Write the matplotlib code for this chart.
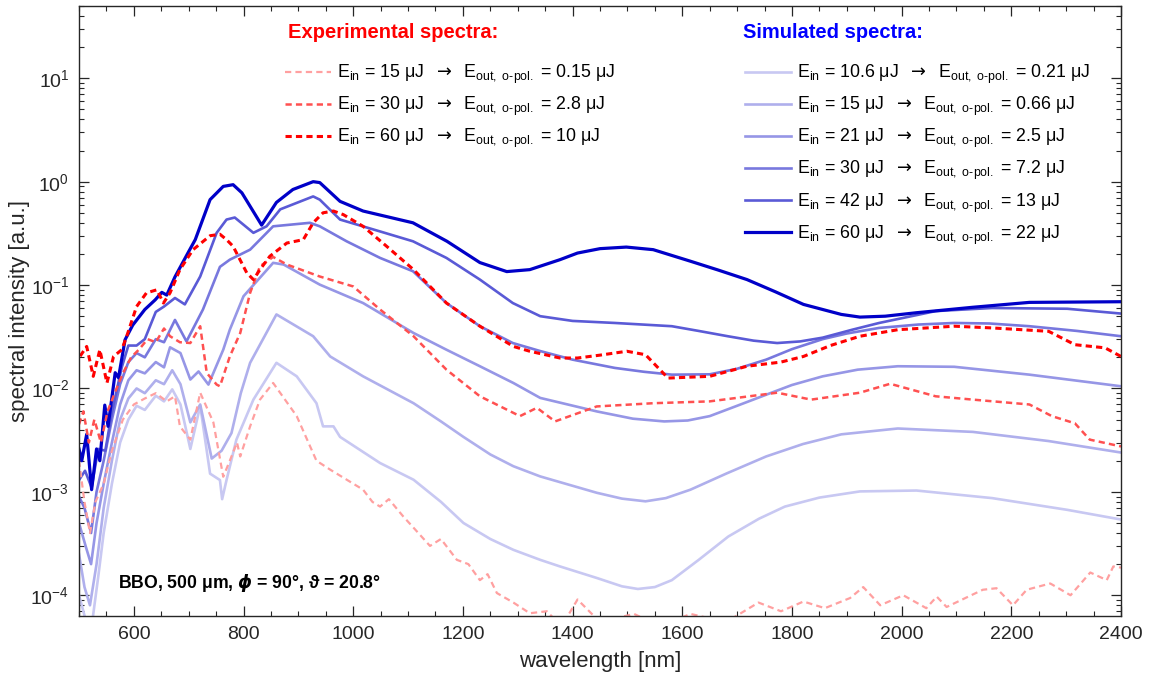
import matplotlib
matplotlib.use("Agg")
import matplotlib.pyplot as plt
from matplotlib.ticker import MultipleLocator, LogLocator, NullFormatter

plt.rcParams['font.family'] = ['Liberation Sans', 'DejaVu Sans']
plt.rcParams['mathtext.fontset'] = 'custom'
plt.rcParams['mathtext.rm'] = 'Liberation Sans'
plt.rcParams['mathtext.it'] = 'Liberation Sans:italic'
plt.rcParams['mathtext.bf'] = 'Liberation Sans:bold'
plt.rcParams['mathtext.sf'] = 'DejaVu Sans'
plt.rcParams['lines.scale_dashes'] = False

# ---------------- data ----------------
# simulated spectra
sim_wl_10_6 = [500, 508, 515, 525, 535, 545, 560, 575, 590, 605, 620, 640, 655, 670, 685, 703, 721, 739, 757, 761,
               769, 787, 818, 860, 897, 933, 945, 964, 976, 1049, 1110, 1160, 1201, 1250, 1292, 1341, 1377, 1444,
               1490, 1519, 1550, 1581, 1630, 1684, 1740, 1787, 1850, 1924, 2027, 2165, 2302, 2400]
sim_I_10_6 = [1.0e-4, 7e-5, 5e-5, 6e-5, 1.5e-4, 4e-4, 1.2e-3, 3.0e-3, 5.0e-3, 6.8e-3, 6.2e-3, 8.5e-3, 7.5e-3, 9.8e-3,
              7.0e-3, 2.6e-3, 6.8e-3, 1.5e-3, 1.3e-3, 8.5e-4, 1.3e-3, 3.2e-3, 7.8e-3, 1.77e-2, 1.31e-2, 7.2e-3,
              4.3e-3, 4.3e-3, 3.4e-3, 1.9e-3, 1.31e-3, 8.0e-4, 5.0e-4, 3.5e-4, 2.75e-4, 2.2e-4, 1.9e-4, 1.47e-4,
              1.22e-4, 1.15e-4, 1.2e-4, 1.4e-4, 2.2e-4, 3.7e-4, 5.5e-4, 7.2e-4, 8.8e-4, 1.01e-3, 1.03e-3, 8.7e-4,
              6.7e-4, 5.4e-4]

sim_wl_15 = [500, 510, 520, 532, 545, 560, 575, 590, 605, 620, 640, 655, 670, 685, 703, 721, 742, 760, 778, 795, 812,
             860, 927, 958, 1018, 1110, 1160, 1201, 1250, 1292, 1341, 1444, 1490, 1533, 1570, 1615, 1680, 1753, 1820,
             1890, 1993, 2130, 2268, 2400]
sim_I_15 = [2.5e-4, 1.2e-4, 8e-5, 2e-4, 7e-4, 2.0e-3, 5.0e-3, 8.0e-3, 1.0e-2, 9.0e-3, 1.2e-2, 1.1e-2, 1.5e-2, 1.1e-2,
            4.7e-3, 7.0e-3, 2.1e-3, 2.5e-3, 3.7e-3, 9.0e-3, 1.77e-2, 5.2e-2, 3.2e-2, 2.04e-2, 1.31e-2, 7.2e-3,
            4.8e-3, 3.4e-3, 2.3e-3, 1.77e-3, 1.41e-3, 9.8e-4, 8.6e-4, 8.1e-4, 8.7e-4, 1.05e-3, 1.5e-3, 2.2e-3,
            2.9e-3, 3.6e-3, 4.1e-3, 3.8e-3, 3.1e-3, 2.4e-3]

sim_wl_21 = [500, 512, 522, 532, 545, 560, 575, 590, 605, 620, 640, 655, 666, 685, 703, 718, 736, 763, 775, 800, 854,
             873, 939, 1018, 1110, 1170, 1231, 1292, 1341, 1444, 1510, 1567, 1610, 1650, 1700, 1753, 1800, 1856,
             1920, 1993, 2096, 2233, 2400]
sim_I_21 = [5e-4, 3e-4, 2e-4, 5e-4, 1.2e-3, 3.0e-3, 7.0e-3, 1.2e-2, 1.5e-2, 1.4e-2, 1.8e-2, 1.6e-2, 2.5e-2, 2.2e-2,
            1.22e-2, 1.46e-2, 1.09e-2, 2.37e-2, 3.7e-2, 7.8e-2, 1.64e-1, 1.58e-1, 1.01e-1, 6.7e-2, 3.44e-2, 2.37e-2,
            1.64e-2, 1.13e-2, 8.1e-3, 6.0e-3, 5.1e-3, 4.8e-3, 4.9e-3, 5.4e-3, 6.8e-3, 8.7e-3, 1.08e-2, 1.31e-2,
            1.52e-2, 1.64e-2, 1.62e-2, 1.36e-2, 1.05e-2]

sim_wl_30 = [500, 510, 522, 532, 545, 560, 575, 590, 605, 620, 640, 655, 675, 696, 726, 757, 775, 812, 854, 921, 939,
             988, 1049, 1109, 1170, 1231, 1291, 1341, 1400, 1477, 1530, 1581, 1650, 1700, 1753, 1800, 1856, 1900,
             1959, 2030, 2096, 2160, 2233, 2320, 2400]
sim_I_30 = [9e-4, 7e-4, 4e-4, 1.0e-3, 2.0e-3, 5.0e-3, 1.1e-2, 1.8e-2, 2.2e-2, 2.0e-2, 3.0e-2, 2.8e-2, 4.6e-2, 2.85e-2,
            5.8e-2, 1.5e-1, 1.76e-1, 2.2e-1, 3.7e-1, 4.0e-1, 3.7e-1, 2.65e-1, 1.83e-1, 1.36e-1, 6.7e-2, 4.0e-2,
            2.75e-2, 2.3e-2, 1.9e-2, 1.58e-2, 1.45e-2, 1.36e-2, 1.37e-2, 1.55e-2, 1.9e-2, 2.4e-2, 3.0e-2, 3.4e-2,
            3.85e-2, 4.15e-2, 4.3e-2, 4.25e-2, 4.0e-2, 3.6e-2, 3.2e-2]

sim_wl_42 = [500, 511, 523, 535, 548, 560, 578, 590, 605, 620, 640, 655, 675, 693, 721, 751, 769, 784, 818, 842, 867,
             927, 939, 976, 1049, 1109, 1170, 1231, 1291, 1341, 1400, 1477, 1581, 1630, 1683, 1730, 1773, 1815, 1856,
             1910, 1959, 2062, 2165, 2302, 2400]
sim_I_42 = [1.3e-3, 1.6e-3, 1.1e-3, 2.6e-3, 2.5e-3, 5.9e-3, 1.6e-2, 2.6e-2, 2.6e-2, 3.0e-2, 5.5e-2, 6.2e-2, 7.5e-2,
            6.5e-2, 1.21e-1, 3.2e-1, 4.3e-1, 4.5e-1, 3.2e-1, 3.7e-1, 5.4e-1, 7.2e-1, 6.7e-1, 4.3e-1, 3.3e-1, 2.65e-1,
            1.83e-1, 1.13e-1, 6.7e-2, 5.0e-2, 4.5e-2, 4.3e-2, 4.0e-2, 3.6e-2, 3.2e-2, 2.9e-2, 2.75e-2, 2.85e-2,
            3.1e-2, 3.7e-2, 4.3e-2, 5.6e-2, 6.0e-2, 5.9e-2, 5.3e-2]

sim_wl_60 = [500, 505, 514, 523, 532, 538, 547, 553, 566, 572, 584, 598, 620, 639, 651, 660, 675, 699, 712, 739, 763,
             781, 797, 833, 860, 890, 927, 939, 976, 1018, 1109, 1171, 1231, 1280, 1322, 1377, 1409, 1450, 1498,
             1547, 1615, 1665, 1718, 1770, 1821, 1890, 1924, 1970, 2027, 2130, 2233, 2400]
sim_I_60 = [2.6e-3, 2.0e-3, 3.6e-3, 1.05e-3, 2.6e-3, 2.0e-3, 6.9e-3, 4.3e-3, 1.42e-2, 1.27e-2, 2.96e-2, 4.1e-2,
            5.8e-2, 7.2e-2, 8.5e-2, 8.0e-2, 1.2e-1, 2.06e-1, 2.75e-1, 6.7e-1, 9.0e-1, 9.35e-1, 7.8e-1, 3.8e-1,
            6.3e-1, 8.4e-1, 1.0, 9.8e-1, 6.45e-1, 5.2e-1, 4.0e-1, 2.65e-1, 1.65e-1, 1.35e-1, 1.41e-1, 1.76e-1,
            2.04e-1, 2.25e-1, 2.33e-1, 2.2e-1, 1.7e-1, 1.4e-1, 1.13e-1, 8.6e-2, 6.5e-2, 5.2e-2, 4.9e-2, 5.0e-2,
            5.4e-2, 6.1e-2, 6.8e-2, 6.9e-2]

# experimental spectra
exp_wl_15 = [500, 510, 520, 530, 545, 560, 580, 600, 620, 640, 660, 675, 684, 703, 721, 745, 763, 775, 788, 794, 812,
             830, 854, 897, 933, 958, 1018, 1035, 1049, 1065, 1091, 1110, 1140, 1160, 1189, 1210, 1231, 1245, 1262,
             1292, 1322, 1353, 1380, 1409, 1450, 1512, 1560, 1615, 1680, 1739, 1780, 1821, 1860, 1906, 1930, 1961,
             2003, 2045, 2064, 2082, 2118, 2148, 2173, 2203, 2228, 2271, 2308, 2344, 2374, 2386, 2400]
exp_I_15 = [2.0e-3, 8e-4, 4e-4, 8e-4, 1.2e-3, 2.5e-3, 5.0e-3, 7.0e-3, 8.0e-3, 9.0e-3, 7.5e-3, 8.4e-3, 4.3e-3, 3.2e-3,
            9.1e-3, 4.7e-3, 1.4e-3, 2.0e-3, 3.0e-3, 2.2e-3, 4.3e-3, 7.8e-3, 1.13e-2, 5.4e-3, 2.0e-3, 1.64e-3,
            1.05e-3, 8.0e-4, 7.2e-4, 8.5e-4, 5.8e-4, 4.5e-4, 3.0e-4, 3.5e-4, 2.2e-4, 2.0e-4, 1.4e-4, 1.6e-4,
            1.05e-4, 8.5e-5, 6.7e-5, 7.0e-5, 5.0e-5, 9.1e-5, 5.5e-5, 6.6e-5, 5.0e-5, 6.6e-5, 5.5e-5, 8.5e-5,
            7.0e-5, 8.7e-5, 7.5e-5, 9.4e-5, 1.2e-4, 8.0e-5, 1.0e-4, 7.5e-5, 9.7e-5, 7.7e-5, 9.5e-5, 1.13e-4,
            1.17e-4, 8.0e-5, 1.13e-4, 1.3e-4, 1.0e-4, 1.66e-4, 1.4e-4, 1.9e-4, 1.85e-4]

exp_wl_30 = [500, 508, 518, 528, 540, 552, 565, 580, 595, 610, 625, 640, 655, 666, 684, 703, 721, 733, 751, 757, 775,
             794, 812, 830, 854, 879, 939, 1000, 1049, 1110, 1170, 1231, 1304, 1335, 1368, 1444, 1547, 1650, 1773,
             1835, 1924, 1979, 2062, 2130, 2233, 2274, 2316, 2343, 2400]
exp_I_30 = [4.5e-3, 6.0e-3, 3.0e-3, 5.0e-3, 3.0e-3, 6.0e-3, 9.0e-3, 1.4e-2, 2.0e-2, 2.4e-2, 3.0e-2, 2.8e-2, 3.8e-2,
            3.2e-2, 2.8e-2, 2.75e-2, 4.0e-2, 1.41e-2, 1.09e-2, 1.05e-2, 2.04e-2, 3.44e-2, 8.4e-2, 1.52e-1, 1.87e-1,
            1.58e-1, 1.21e-1, 9.7e-2, 5.8e-2, 3.2e-2, 1.52e-2, 8.4e-3, 5.4e-3, 6.5e-3, 4.8e-3, 6.7e-3, 7.2e-3,
            7.5e-3, 9.1e-3, 7.8e-3, 9.1e-3, 1.11e-2, 8.4e-3, 7.8e-3, 7.0e-3, 5.4e-3, 4.6e-3, 3.2e-3, 2.75e-3]

exp_wl_60 = [502, 514, 526, 538, 551, 563, 578, 587, 605, 623, 642, 654, 666, 684, 708, 739, 757, 769, 781, 806, 818,
             830, 848, 879, 909, 927, 945, 964, 982, 1018, 1061, 1110, 1170, 1231, 1292, 1322, 1377, 1409, 1450,
             1499, 1533, 1574, 1650, 1718, 1780, 1821, 1870, 1924, 1993, 2096, 2165, 2268, 2316, 2371, 2400]
exp_I_60 = [2.05e-2, 2.55e-2, 1.31e-2, 2.37e-2, 1.13e-2, 2.04e-2, 2.37e-2, 3.2e-2, 6.2e-2, 8.4e-2, 9.0e-2, 6.7e-2,
            8.4e-2, 1.41e-1, 2.2e-1, 3.0e-1, 3.1e-1, 2.75e-1, 2.37e-1, 1.31e-1, 1.13e-1, 1.41e-1, 1.9e-1, 2.55e-1,
            2.75e-1, 4.0e-1, 5.0e-1, 5.2e-1, 4.8e-1, 3.7e-1, 2.37e-1, 1.41e-1, 6.7e-2, 4.0e-2, 2.55e-2, 2.29e-2,
            1.97e-2, 1.97e-2, 2.1e-2, 2.29e-2, 2.12e-2, 1.26e-2, 1.31e-2, 1.64e-2, 1.8e-2, 2.04e-2, 2.6e-2, 3.2e-2,
            3.7e-2, 4.0e-2, 3.85e-2, 3.57e-2, 2.65e-2, 2.47e-2, 2.04e-2]

sim_ein = ['10.6', '15', '21', '30', '42', '60']
sim_eout = ['0.21', '0.66', '2.5', '7.2', '13', '22']
exp_ein = ['15', '30', '60']
exp_eout = ['0.15', '2.8', '10']

x_ticks = [600, 800, 1000, 1200, 1400, 1600, 1800, 2000, 2200, 2400]

# ---------------- style ----------------
sim_colors = ['#c8c8f2', '#afafec', '#9696e6', '#7878de', '#5a5ad6', '#0000c8']
sim_lw = [1.9, 1.9, 1.9, 1.9, 1.9, 2.3]
exp_colors = ['#ffa0a0', '#ff5050', '#ff0000']
exp_lw = [1.6, 1.8, 2.2]
dash = (4.5, 3.0)

sim_wl = [sim_wl_10_6, sim_wl_15, sim_wl_21, sim_wl_30, sim_wl_42, sim_wl_60]
sim_I = [sim_I_10_6, sim_I_15, sim_I_21, sim_I_30, sim_I_42, sim_I_60]
exp_wl = [exp_wl_15, exp_wl_30, exp_wl_60]
exp_I = [exp_I_15, exp_I_30, exp_I_60]

fig = plt.figure(figsize=(11.52, 6.81), dpi=100)
ax = fig.add_axes([79 / 1152, 1 - 616 / 681, 1042 / 1152, 610 / 681])

sim_handles = []
for wl, I, c, lw in zip(sim_wl, sim_I, sim_colors, sim_lw):
    h, = ax.plot(wl, I, color=c, lw=lw, solid_joinstyle='round')
    sim_handles.append(h)

exp_handles = []
for wl, I, c, lw in zip(exp_wl, exp_I, exp_colors, exp_lw):
    h, = ax.plot(wl, I, color=c, lw=lw, dashes=dash)
    exp_handles.append(h)

ax.set_yscale('log')
ax.set_xlim(500, 2400)
ax.set_ylim(6.3e-5, 50)
ax.set_xticks(x_ticks)
ax.xaxis.set_minor_locator(MultipleLocator(50))
ax.yaxis.set_major_locator(LogLocator(base=10, numticks=20))
ax.yaxis.set_minor_locator(LogLocator(base=10, subs=range(2, 10), numticks=100))
ax.yaxis.set_minor_formatter(NullFormatter())

axcol = '#262626'
for s in ax.spines.values():
    s.set_color(axcol)
    s.set_linewidth(1.0)
ax.tick_params(which='both', direction='in', top=True, right=True, colors=axcol, labelcolor=axcol)
ax.tick_params(which='major', length=7, width=0.9, labelsize=14, pad=7)
ax.tick_params(which='minor', length=3.5, width=0.8)

ax.set_xlabel('wavelength [nm]', fontsize=16, color=axcol, labelpad=6)
ax.set_ylabel('spectral intensity [a.u.]', fontsize=16, color=axcol, labelpad=0)


def lab(ein, eout):
    return ('E$_{\\mathrm{in}}$ = ' + ein + ' \u03bcJ  $\\mathsf{\\rightarrow}$  '
            'E$_{\\mathrm{out,\\ o}\\text{-}\\mathrm{pol.}}$ = ' + eout + ' \u03bcJ')


leg_kw = dict(loc='upper left', frameon=False, fontsize=12.8, handlelength=2.6, handletextpad=0.35,
              labelspacing=0.50, borderpad=0, borderaxespad=0)
leg1 = ax.legend(exp_handles, [lab(a, b) for a, b in zip(exp_ein, exp_eout)],
                 bbox_to_anchor=((285 - 79) / 1042, 1 - (63 - 6) / 610), **leg_kw)
ax.add_artist(leg1)
leg2 = ax.legend(sim_handles, [lab(a, b) for a, b in zip(sim_ein, sim_eout)],
                 bbox_to_anchor=((745 - 79) / 1042, 1 - (63 - 6) / 610), **leg_kw)

fig.text(288 / 1152, 1 - 33 / 681, 'Experimental spectra:', color='#ff0000', fontsize=14.5,
         fontweight='bold', va='center', ha='left')
fig.text(743 / 1152, 1 - 33 / 681, 'Simulated spectra:', color='#0000ff', fontsize=14.5,
         fontweight='bold', va='center', ha='left')
fig.text(118 / 1152, 1 - 583 / 681,
         'BBO, 500 \u03bcm, $\\boldsymbol{\\phi}$ = 90\u00b0, $\\boldsymbol{\\vartheta}$ = 20.8\u00b0',
         fontsize=12.7, fontweight='bold', color='black', va='center', ha='left')

fig.savefig('out.png', dpi=100)
